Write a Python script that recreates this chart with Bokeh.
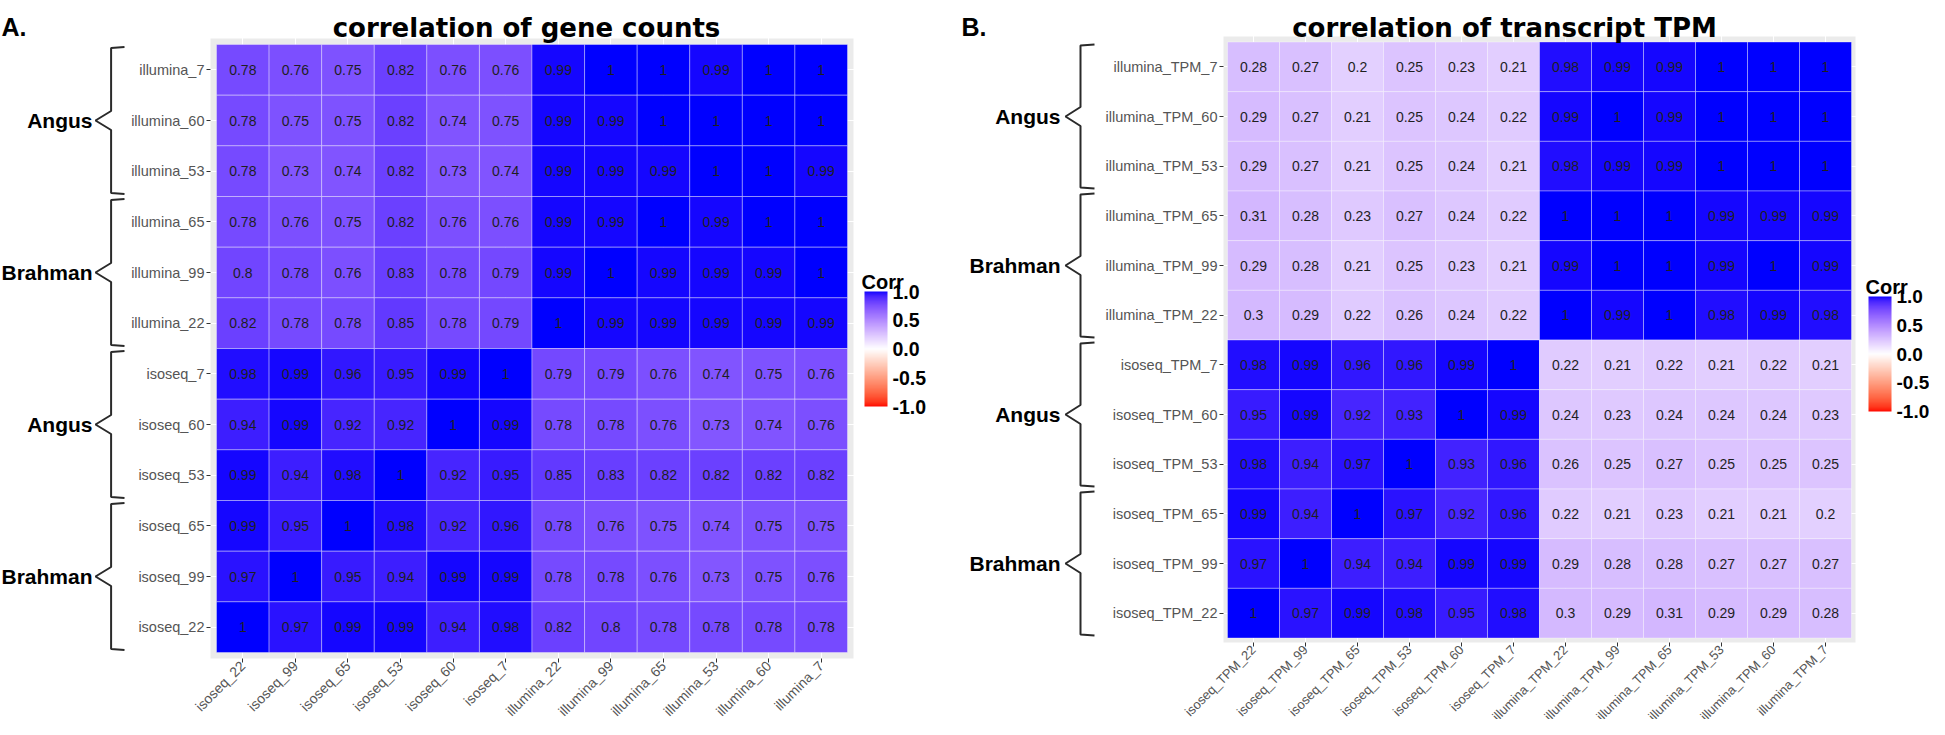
import math
from bokeh.plotting import figure
from bokeh.models import (Range1d, FixedTicker, ColorBar, LinearColorMapper, LinearAxis, Grid,
                          PrintfTickFormatter, ColumnDataSource)
from bokeh.layouts import row
from bokeh.embed import file_html
from bokeh.resources import INLINE
from bokeh.core.properties import value

FONT = "Liberation Sans"
TITLE_FONT = "DejaVu Sans"

# ---------------- data ----------------
# column order (left -> right); the same order is used bottom -> top on the y axis
samples_A = ["isoseq_22", "isoseq_99", "isoseq_65", "isoseq_53", "isoseq_60", "isoseq_7",
             "illumina_22", "illumina_99", "illumina_65", "illumina_53", "illumina_60", "illumina_7"]
# rows listed top -> bottom (illumina_7 ... isoseq_22), columns left -> right
corr_A = [
    [0.78, 0.76, 0.75, 0.82, 0.76, 0.76, 0.99, 1, 1, 0.99, 1, 1],
    [0.78, 0.75, 0.75, 0.82, 0.74, 0.75, 0.99, 0.99, 1, 1, 1, 1],
    [0.78, 0.73, 0.74, 0.82, 0.73, 0.74, 0.99, 0.99, 0.99, 1, 1, 0.99],
    [0.78, 0.76, 0.75, 0.82, 0.76, 0.76, 0.99, 0.99, 1, 0.99, 1, 1],
    [0.8, 0.78, 0.76, 0.83, 0.78, 0.79, 0.99, 1, 0.99, 0.99, 0.99, 1],
    [0.82, 0.78, 0.78, 0.85, 0.78, 0.79, 1, 0.99, 0.99, 0.99, 0.99, 0.99],
    [0.98, 0.99, 0.96, 0.95, 0.99, 1, 0.79, 0.79, 0.76, 0.74, 0.75, 0.76],
    [0.94, 0.99, 0.92, 0.92, 1, 0.99, 0.78, 0.78, 0.76, 0.73, 0.74, 0.76],
    [0.99, 0.94, 0.98, 1, 0.92, 0.95, 0.85, 0.83, 0.82, 0.82, 0.82, 0.82],
    [0.99, 0.95, 1, 0.98, 0.92, 0.96, 0.78, 0.76, 0.75, 0.74, 0.75, 0.75],
    [0.97, 1, 0.95, 0.94, 0.99, 0.99, 0.78, 0.78, 0.76, 0.73, 0.75, 0.76],
    [1, 0.97, 0.99, 0.99, 0.94, 0.98, 0.82, 0.8, 0.78, 0.78, 0.78, 0.78],
]

samples_B = ["isoseq_TPM_22", "isoseq_TPM_99", "isoseq_TPM_65", "isoseq_TPM_53", "isoseq_TPM_60", "isoseq_TPM_7",
             "illumina_TPM_22", "illumina_TPM_99", "illumina_TPM_65", "illumina_TPM_53", "illumina_TPM_60",
             "illumina_TPM_7"]
corr_B = [
    [0.28, 0.27, 0.2, 0.25, 0.23, 0.21, 0.98, 0.99, 0.99, 1, 1, 1],
    [0.29, 0.27, 0.21, 0.25, 0.24, 0.22, 0.99, 1, 0.99, 1, 1, 1],
    [0.29, 0.27, 0.21, 0.25, 0.24, 0.21, 0.98, 0.99, 0.99, 1, 1, 1],
    [0.31, 0.28, 0.23, 0.27, 0.24, 0.22, 1, 1, 1, 0.99, 0.99, 0.99],
    [0.29, 0.28, 0.21, 0.25, 0.23, 0.21, 0.99, 1, 1, 0.99, 1, 0.99],
    [0.3, 0.29, 0.22, 0.26, 0.24, 0.22, 1, 0.99, 1, 0.98, 0.99, 0.98],
    [0.98, 0.99, 0.96, 0.96, 0.99, 1, 0.22, 0.21, 0.22, 0.21, 0.22, 0.21],
    [0.95, 0.99, 0.92, 0.93, 1, 0.99, 0.24, 0.23, 0.24, 0.24, 0.24, 0.23],
    [0.98, 0.94, 0.97, 1, 0.93, 0.96, 0.26, 0.25, 0.27, 0.25, 0.25, 0.25],
    [0.99, 0.94, 1, 0.97, 0.92, 0.96, 0.22, 0.21, 0.23, 0.21, 0.21, 0.2],
    [0.97, 1, 0.94, 0.94, 0.99, 0.99, 0.29, 0.28, 0.28, 0.27, 0.27, 0.27],
    [1, 0.97, 0.99, 0.98, 0.95, 0.98, 0.3, 0.29, 0.31, 0.29, 0.29, 0.28],
]

# breed groups, top -> bottom, each spanning a number of rows
group_names = ["Angus", "Brahman", "Angus", "Brahman"]
group_sizes = [3, 3, 3, 3]

panel_tags = ["A.", "B."]
title_A = "correlation of gene counts"
title_B = "correlation of transcript TPM"
legend_title = "Corr"
legend_ticks = [-1, -0.5, 0, 0.5, 1]


# ---------------- colour scale (ggplot2 gradient2, interpolated in CIELAB) ----------------
def _srgb_to_lab(rgb):
    def lin(c):
        c = c / 255.0
        return c / 12.92 if c <= 0.04045 else ((c + 0.055) / 1.055) ** 2.4
    r, g, b = (lin(c) for c in rgb)
    X = 0.4124564 * r + 0.3575761 * g + 0.1804375 * b
    Y = 0.2126729 * r + 0.7151522 * g + 0.0721750 * b
    Z = 0.0193339 * r + 0.1191920 * g + 0.9503041 * b
    def f(t):
        return t ** (1 / 3) if t > 0.008856 else 7.787 * t + 16 / 116
    fx, fy, fz = f(X / 0.95047), f(Y), f(Z / 1.08883)
    return (116 * fy - 16, 500 * (fx - fy), 200 * (fy - fz))


def _lab_to_hex(L, a, b):
    fy = (L + 16) / 116
    fx = fy + a / 500
    fz = fy - b / 200
    def finv(t):
        return t ** 3 if t ** 3 > 0.008856 else (t - 16 / 116) / 7.787
    X, Y, Z = 0.95047 * finv(fx), finv(fy), 1.08883 * finv(fz)
    r = 3.2404542 * X - 1.5371385 * Y - 0.4985314 * Z
    g = -0.9692660 * X + 1.8760108 * Y + 0.0415560 * Z
    bb = 0.0556434 * X - 0.2040259 * Y + 1.0572252 * Z
    def gam(c):
        c = min(max(c, 0.0), 1.0)
        return 12.92 * c if c <= 0.0031308 else 1.055 * c ** (1 / 2.4) - 0.055
    return "#%02x%02x%02x" % tuple(int(round(gam(c) * 255)) for c in (r, g, bb))


LAB_LOW = _srgb_to_lab((255, 0, 0))
LAB_MID = _srgb_to_lab((255, 255, 255))
LAB_HIGH = _srgb_to_lab((0, 0, 255))


def corr_color(v):
    t = max(-1.0, min(1.0, v))
    end = LAB_HIGH if t >= 0 else LAB_LOW
    t = abs(t)
    return _lab_to_hex(*(m + (e - m) * t for m, e in zip(LAB_MID, end)))


palette = [corr_color(-1 + 2 * i / 255) for i in range(256)]


def fmt(v):
    return "{:g}".format(v)


# vertical placement of the figures in picture pixels
PAGE_TOP = -1
FIG_H = 719
PAGE_BOTTOM = PAGE_TOP + FIG_H


def panel(cols, corr, tag, title, fig_x, cells, grey, brace_x, label_x, title_x, tag_x,
          xlab_size, cb_x, cb_top, cb_label_size):
    """fig_x: (left, right) of the figure on the page; cells/grey: (x0, x1, y0, y1) boxes."""
    n = len(cols)
    cx0, cx1, cy0, cy1 = cells
    ux = (cx1 - cx0) / n
    uy = (cy1 - cy0) / n

    def X(px):
        return (px - cx0) / ux

    def Y(py):
        return (cy1 - py) / uy

    fx0, fx1 = fig_x
    p = figure(width=fx1 - fx0, height=FIG_H, title=None,
               x_range=Range1d(X(fx0), X(fx1)), y_range=Range1d(Y(PAGE_BOTTOM), Y(PAGE_TOP)),
               x_axis_type=None, y_axis_type=None, min_border=0,
               toolbar_location=None, output_backend="svg")
    p.outline_line_color = None
    p.background_fill_color = "white"
    p.border_fill_color = "white"

    gx0, gx1, gy0, gy1 = grey
    # grey panel behind the tiles (ggplot theme_grey)
    p.quad(left=[X(gx0)], right=[X(gx1)], bottom=[Y(gy1)], top=[Y(gy0)],
           fill_color="#EBEBEB", line_color=None, level="image")

    ticks = [i + 0.5 for i in range(n)]
    for dim in (0, 1):
        g = Grid(dimension=dim, ticker=FixedTicker(ticks=ticks, minor_ticks=[]),
                 grid_line_color="white", grid_line_width=1)
        p.add_layout(g)

    rows_top = list(reversed(cols))
    xs, ys, cs, ts = [], [], [], []
    for r in range(n):
        for c in range(n):
            v = corr[r][c]
            xs.append(c + 0.5)
            ys.append(n - 1 - r + 0.5)
            cs.append(corr_color(v))
            ts.append(fmt(v))
    src = ColumnDataSource(dict(x=xs, y=ys, color=cs, label=ts))
    p.rect(x="x", y="y", width=1, height=1, source=src, fill_color="color",
           line_color="white", line_alpha=0.35, line_width=1)
    p.text(x="x", y="y", text="label", source=src, text_align="center",
           text_baseline="middle", text_font=value(FONT), text_font_size="14px",
           text_color="#1f1f1f")

    xaxis = LinearAxis(fixed_location=Y(gy1), ticker=FixedTicker(ticks=ticks, minor_ticks=[]),
                       major_label_overrides={t: cols[i] for i, t in enumerate(ticks)},
                       major_label_orientation=math.pi / 4)
    yaxis = LinearAxis(fixed_location=X(gx0), ticker=FixedTicker(ticks=ticks, minor_ticks=[]),
                       major_label_overrides={t: rows_top[n - 1 - i] for i, t in enumerate(ticks)})
    for ax, size in ((xaxis, xlab_size), (yaxis, "14.5px")):
        ax.axis_line_color = None
        ax.major_tick_line_color = "#333333"
        ax.major_tick_out = 4
        ax.major_tick_in = 0
        ax.minor_tick_line_color = None
        ax.major_label_standoff = 2
        ax.major_label_text_font = FONT
        ax.major_label_text_font_size = size
        ax.major_label_text_color = "#555555"
    xaxis.major_label_standoff = 1
    p.add_layout(xaxis, "below")
    p.add_layout(yaxis, "left")

    # braces with breed names
    tip_x, line_x, hook_x = brace_x
    inset = 2.5 / uy
    h = 9.5 / uy
    bxs, bys, lx, ly, lt = [], [], [], [], []
    start = 0
    for name, size in zip(group_names, group_sizes):
        top = n - start - inset
        bot = n - start - size + inset
        mid = (top + bot) / 2
        bxs.append([X(hook_x), X(line_x), X(line_x), X(tip_x), X(line_x), X(line_x), X(hook_x)])
        bys.append([top, top - 0.02, mid + h, mid, mid - h, bot + 0.02, bot])
        lx.append(X(label_x))
        ly.append(mid)
        lt.append(name)
        start += size
    p.multi_line(xs=bxs, ys=bys, line_color="#2a2a2a", line_width=2)
    p.text(x=lx, y=ly, text=lt, text_align="right", text_baseline="middle",
           text_font=value(FONT), text_font_size="21px", text_font_style="bold",
           text_color="black")

    # panel tag and title
    p.text(x=[X(tag_x)], y=[Y(25)], text=[tag], text_align="left", text_baseline="alphabetic",
           text_font=value(FONT), text_font_size="25px", text_font_style="bold", text_color="black")
    p.text(x=[X(title_x)], y=[Y(26)], text=[title], text_align="center",
           text_baseline="alphabetic", text_font=value(TITLE_FONT), text_font_size="26px",
           text_font_style="bold", text_color="black")

    # colour bar legend (its title drawn horizontally above the bar)
    bar_h = 115
    mapper = LinearColorMapper(palette=palette, low=-1, high=1)
    cb = ColorBar(color_mapper=mapper, width=23, height=bar_h,
                  location=(cb_x - fx0, PAGE_BOTTOM - (cb_top + bar_h)), padding=0,
                  title=None,
                  ticker=FixedTicker(ticks=legend_ticks, minor_ticks=[]),
                  formatter=PrintfTickFormatter(format="%.1f"),
                  major_label_text_font=FONT, major_label_text_font_size=cb_label_size,
                  major_label_text_font_style="bold", major_label_text_color="black",
                  label_standoff=5, major_tick_line_color=None, minor_tick_line_color=None,
                  bar_line_color=None, border_line_color=None, background_fill_alpha=0)
    p.add_layout(cb)
    p.text(x=[X(cb_x - 3)], y=[Y(cb_top - 10)], text=[legend_title], text_align="left",
           text_baseline="alphabetic", text_font=value(FONT), text_font_size="20px",
           text_font_style="bold", text_color="black")
    return p


figA = panel(samples_A, corr_A, panel_tags[0], title_A, (8, 968),
             cells=(224, 855, 43, 651), grey=(218, 861, 37, 657),
             brace_x=(103, 118.6, 132), label_x=100, title_x=534, tag_x=9,
             xlab_size="14px", cb_x=872, cb_top=290, cb_label_size="19.5px")
figB = panel(samples_B, corr_B, panel_tags[1], title_B, (968, 1937),
             cells=(1235, 1859, 40.5, 636.5), grey=(1231, 1863, 35, 641),
             brace_x=(1073, 1088, 1102), label_x=1068, title_x=1512, tag_x=969,
             xlab_size="13px", cb_x=1876, cb_top=295, cb_label_size="19px")

layout = row(figA, figB)
open("out.html", "w").write(file_html(layout, INLINE))
